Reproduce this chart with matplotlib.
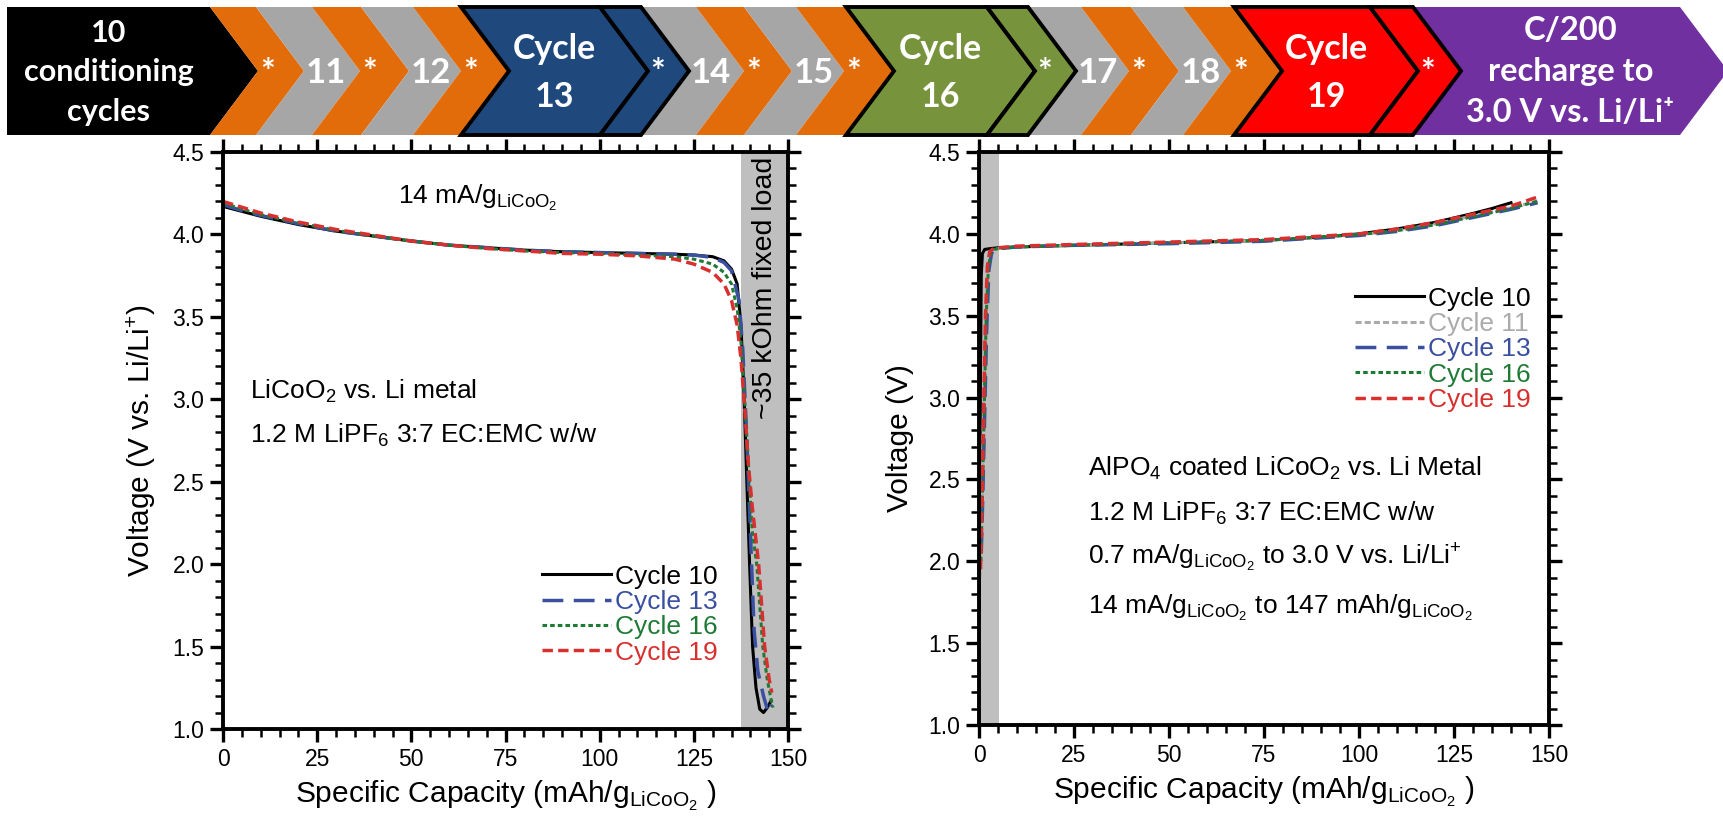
import matplotlib
matplotlib.use('Agg')
import matplotlib.pyplot as plt
from matplotlib.patches import Polygon
from matplotlib.ticker import MultipleLocator, FormatStrFormatter

plt.rcParams['font.family'] = ['Liberation Sans', 'DejaVu Sans']
plt.rcParams['mathtext.fontset'] = 'custom'
plt.rcParams['mathtext.rm'] = 'Liberation Sans'
plt.rcParams['mathtext.it'] = 'Liberation Sans:italic'
plt.rcParams['mathtext.bf'] = 'Liberation Sans:bold'

# cycling protocol banner
stage_labels = ['10\nconditioning\ncycles', '*', '11', '*', '12', '*', 'Cycle\n13', '*',
                '14', '*', '15', '*', 'Cycle\n16', '*', '17', '*', '18', '*',
                'Cycle\n19', '*', 'C/200\nrecharge to\n3.0 V vs. Li/Li\u207a']
stage_colors = ['#000000', '#E36C0A', '#A6A6A6', '#E36C0A', '#A6A6A6', '#E36C0A',
                '#1F497D', '#1F497D', '#A6A6A6', '#E36C0A', '#A6A6A6', '#E36C0A',
                '#77933C', '#77933C', '#A6A6A6', '#E36C0A', '#A6A6A6', '#E36C0A',
                '#FF0000', '#FF0000', '#7030A0']
highlighted = [6, 7, 12, 13, 18, 19]
stage_edges = [7, 210, 256, 312, 361, 413, 461, 600, 641, 696, 744, 796, 846,
               987, 1028, 1081, 1131, 1183, 1234, 1370, 1413, 1680]

# discharge, LiCoO2 vs Li (left)
dis_x10 = [0, 5, 10, 20, 30, 40, 50, 60, 70, 80, 90, 100, 110, 120, 125, 130, 133, 135,
           136.5, 137.5, 138.3, 139, 139.8, 140.6, 141.5, 142.5, 143.5, 144.5, 145.5]
dis_y10 = [4.17, 4.14, 4.11, 4.06, 4.02, 3.99, 3.96, 3.935, 3.92, 3.905, 3.895, 3.89, 3.885,
           3.88, 3.875, 3.865, 3.84, 3.79, 3.70, 3.45, 3.05, 2.55, 2.0, 1.5, 1.25, 1.12,
           1.10, 1.13, 1.17]
dis_x13 = [0, 5, 10, 20, 30, 40, 50, 60, 70, 80, 90, 100, 110, 120, 125, 130, 133, 135,
           137, 138, 139, 140, 141, 142, 143.5, 144.5, 145, 145.6]
dis_y13 = [4.18, 4.145, 4.115, 4.065, 4.02, 3.99, 3.96, 3.935, 3.92, 3.905, 3.895, 3.89,
           3.885, 3.88, 3.875, 3.86, 3.83, 3.78, 3.6, 3.3, 2.8, 2.2, 1.6, 1.35, 1.2, 1.12,
           1.10, 1.15]
dis_x16 = [0, 5, 10, 20, 30, 40, 50, 60, 70, 80, 90, 100, 110, 120, 125, 130, 133, 135,
           136.5, 137.5, 138.5, 139.5, 140.5, 141.7, 143.3, 144.5, 145.5, 146]
dis_y16 = [4.19, 4.155, 4.12, 4.07, 4.025, 3.99, 3.96, 3.935, 3.915, 3.9, 3.89, 3.885,
           3.875, 3.865, 3.85, 3.82, 3.77, 3.70, 3.55, 3.35, 3.0, 2.6, 2.2, 2.0, 1.5, 1.3,
           1.18, 1.13]
dis_x19 = [0, 5, 10, 20, 30, 40, 50, 60, 70, 80, 90, 100, 110, 120, 125, 130, 133, 135,
           136.5, 137.5, 138.5, 139.5, 140.5, 142.2, 143.8, 145, 145.7]
dis_y19 = [4.20, 4.165, 4.13, 4.075, 4.03, 3.995, 3.96, 3.935, 3.915, 3.9, 3.885, 3.88,
           3.87, 3.85, 3.82, 3.77, 3.70, 3.60, 3.45, 3.25, 2.95, 2.6, 2.35, 2.0, 1.5, 1.3,
           1.22]

# charge, AlPO4-coated LiCoO2 vs Li (right)
chg_x10 = [0, 0.2, 0.4, 0.6, 0.9, 1.5, 3, 5, 10, 25, 50, 75, 90, 100, 110, 120, 130, 135, 140]
chg_y10 = [1.65, 2.4, 3.2, 3.75, 3.88, 3.905, 3.91, 3.915, 3.92, 3.93, 3.945, 3.96, 3.98,
           4.0, 4.03, 4.07, 4.125, 4.155, 4.19]
chg_x11 = [0.3, 0.7, 1.2, 1.8, 2.5, 3.5, 5, 10, 25, 50, 75, 100, 110, 120, 130, 140, 147]
chg_y11 = [1.9, 2.3, 2.9, 3.5, 3.82, 3.895, 3.91, 3.92, 3.93, 3.945, 3.96, 3.995, 4.02,
           4.06, 4.11, 4.16, 4.2]
chg_x13 = [0.6, 1.0, 1.5, 2.0, 2.6, 3.3, 4, 5, 10, 25, 50, 75, 100, 110, 120, 130, 140, 147]
chg_y13 = [2.05, 2.4, 2.9, 3.4, 3.78, 3.88, 3.905, 3.91, 3.92, 3.93, 3.94, 3.955, 3.99,
           4.015, 4.05, 4.1, 4.15, 4.19]
chg_x16 = [0.5, 0.9, 1.4, 1.9, 2.5, 3.2, 4, 5, 10, 25, 50, 75, 100, 110, 120, 130, 140, 147]
chg_y16 = [2.0, 2.4, 2.95, 3.5, 3.8, 3.89, 3.905, 3.91, 3.92, 3.93, 3.945, 3.96, 3.995,
           4.02, 4.055, 4.105, 4.155, 4.2]
chg_x19 = [0.4, 0.8, 1.2, 1.7, 2.2, 2.8, 3.5, 5, 10, 25, 50, 75, 100, 110, 120, 130, 140, 147]
chg_y19 = [1.95, 2.35, 2.9, 3.5, 3.8, 3.89, 3.905, 3.915, 3.925, 3.935, 3.95, 3.965, 4.0,
           4.03, 4.07, 4.12, 4.17, 4.225]

styles = {
    'Cycle 10': dict(color='black', lw=2.2, ls='-'),
    'Cycle 11': dict(color='#ABABAB', lw=2.2, ls=(0, (2, 1))),
    'Cycle 13': dict(color='#3A4F9F', lw=2.5, ls=(0, (6, 3))),
    'Cycle 16': dict(color='#1F7A36', lw=2.2, ls=(0, (1.5, 1))),
    'Cycle 19': dict(color='#D8302F', lw=2.5, ls=(0, (3, 1.5))),
}

W, H = 1723, 830
fig = plt.figure(figsize=(W / 100, H / 100), dpi=100)

# banner drawn in pixel coordinates
axb = fig.add_axes([0, 0, 1, 1])
axb.set_xlim(0, W)
axb.set_ylim(H, 0)
axb.axis('off')
top, bot, mid, d = 7, 135, 71, 48
for i, (lab, col) in enumerate(zip(stage_labels, stage_colors)):
    x0, x1 = stage_edges[i], stage_edges[i + 1]
    if i == 0:
        pts = [(x0, top), (x1, top), (x1 + d, mid), (x1, bot), (x0, bot)]
    else:
        pts = [(x0, top), (x1, top), (x1 + d, mid), (x1, bot), (x0, bot), (x0 + d, mid)]
    hl = i in highlighted
    axb.add_patch(Polygon(pts, closed=True, facecolor=col,
                          edgecolor='black' if hl else 'none',
                          lw=2.8 if hl else 0, zorder=3 if hl else 2,
                          joinstyle='miter'))
    tkw = dict(color='white', fontweight='bold', family=['Lato', 'DejaVu Sans'],
               va='center', zorder=4)
    if i in (0, 20):
        xc = (x0 + x1) / 2 if i == 0 else (x0 + d + x1) / 2
        axb.text(xc, mid + 1, lab, ha='center', fontsize=22 if i == 0 else 23.5,
                 linespacing=1.5, **tkw)
    elif '\n' in lab:
        axb.text((x0 + d + x1) / 2, mid + 2, lab, ha='center', fontsize=24.5,
                 linespacing=1.6, **tkw)
    else:
        axb.text(x0 + d + 2, mid + 2, lab, ha='left', fontsize=25, **tkw)

axL = fig.add_axes([223 / W, 1 - 729 / H, 565 / W, 577 / H])
axR = fig.add_axes([979 / W, 1 - 725 / H, 570 / W, 573 / H])

for name, x, y in [('Cycle 10', dis_x10, dis_y10), ('Cycle 13', dis_x13, dis_y13),
                   ('Cycle 16', dis_x16, dis_y16), ('Cycle 19', dis_x19, dis_y19)]:
    axL.plot(x, y, label=name, **styles[name])
for name, x, y in [('Cycle 10', chg_x10, chg_y10), ('Cycle 11', chg_x11, chg_y11),
                   ('Cycle 13', chg_x13, chg_y13), ('Cycle 16', chg_x16, chg_y16),
                   ('Cycle 19', chg_x19, chg_y19)]:
    axR.plot(x, y, label=name, **styles[name])

axL.axvspan(137.5, 150, color='#BFBFBF', lw=0, zorder=0)
axR.axvspan(0, 5.2, color='#BFBFBF', lw=0, zorder=0)

sub = r'$_{\mathrm{LiCoO_2}}$'
for ax, ylab in [(axL, r'Voltage (V vs. Li/Li$^{+}$)'), (axR, 'Voltage (V)')]:
    ax.set_xlim(0, 150)
    ax.set_ylim(1.0, 4.5)
    ax.xaxis.set_major_locator(MultipleLocator(25))
    ax.xaxis.set_minor_locator(MultipleLocator(5))
    ax.yaxis.set_major_locator(MultipleLocator(0.5))
    ax.yaxis.set_minor_locator(MultipleLocator(0.1))
    ax.yaxis.set_major_formatter(FormatStrFormatter('%.1f'))
    ax.tick_params(which='both', direction='out', top=True, right=True, labelsize=16.5,
                   pad=4)
    ax.tick_params(which='major', length=9.5, width=2.4)
    ax.tick_params(which='minor', length=5.5, width=1.8)
    for s in ax.spines.values():
        s.set_linewidth(2.8)
    ax.set_xlabel('Specific Capacity (mAh/g' + sub + ' )', fontsize=21.5, labelpad=6)
    ax.set_ylabel(ylab, fontsize=21.5, labelpad=10)

fs = 19
axL.text(46.5, 4.185, '14 mA/g' + sub, fontsize=fs, va='baseline')
axL.text(7.3, 3.0, r'LiCoO$_{2}$ vs. Li metal', fontsize=fs, va='baseline')
axL.text(7.3, 2.735, r'1.2 M LiPF$_{6}$ 3:7 EC:EMC w/w', fontsize=fs, va='baseline')
axL.text(143.9, 4.47, '~35 kOhm fixed load', fontsize=20.5, rotation=90, ha='center',
         va='top')

axR.text(28.7, 2.52, r'AlPO$_{4}$ coated LiCoO$_{2}$ vs. Li Metal', fontsize=fs,
         va='baseline')
axR.text(28.7, 2.25, r'1.2 M LiPF$_{6}$ 3:7 EC:EMC w/w', fontsize=fs, va='baseline')
axR.text(28.7, 1.98, '0.7 mA/g' + sub + r' to 3.0 V vs. Li/Li$^{+}$', fontsize=fs,
         va='baseline')
axR.text(28.7, 1.68, '14 mA/g' + sub + ' to 147 mAh/g' + sub, fontsize=fs,
         va='baseline')

for ax, anchor in [(axL, (0.565, 0.285)), (axR, (0.66, 0.765))]:
    leg = ax.legend(loc='upper left', bbox_to_anchor=anchor, frameon=False, fontsize=fs,
                    handlelength=2.6, handletextpad=0.15, labelspacing=0.05,
                    borderpad=0, borderaxespad=0)
    for t, ln in zip(leg.get_texts(), leg.get_lines()):
        t.set_color(ln.get_color())

fig.savefig('out.png', dpi=100)
